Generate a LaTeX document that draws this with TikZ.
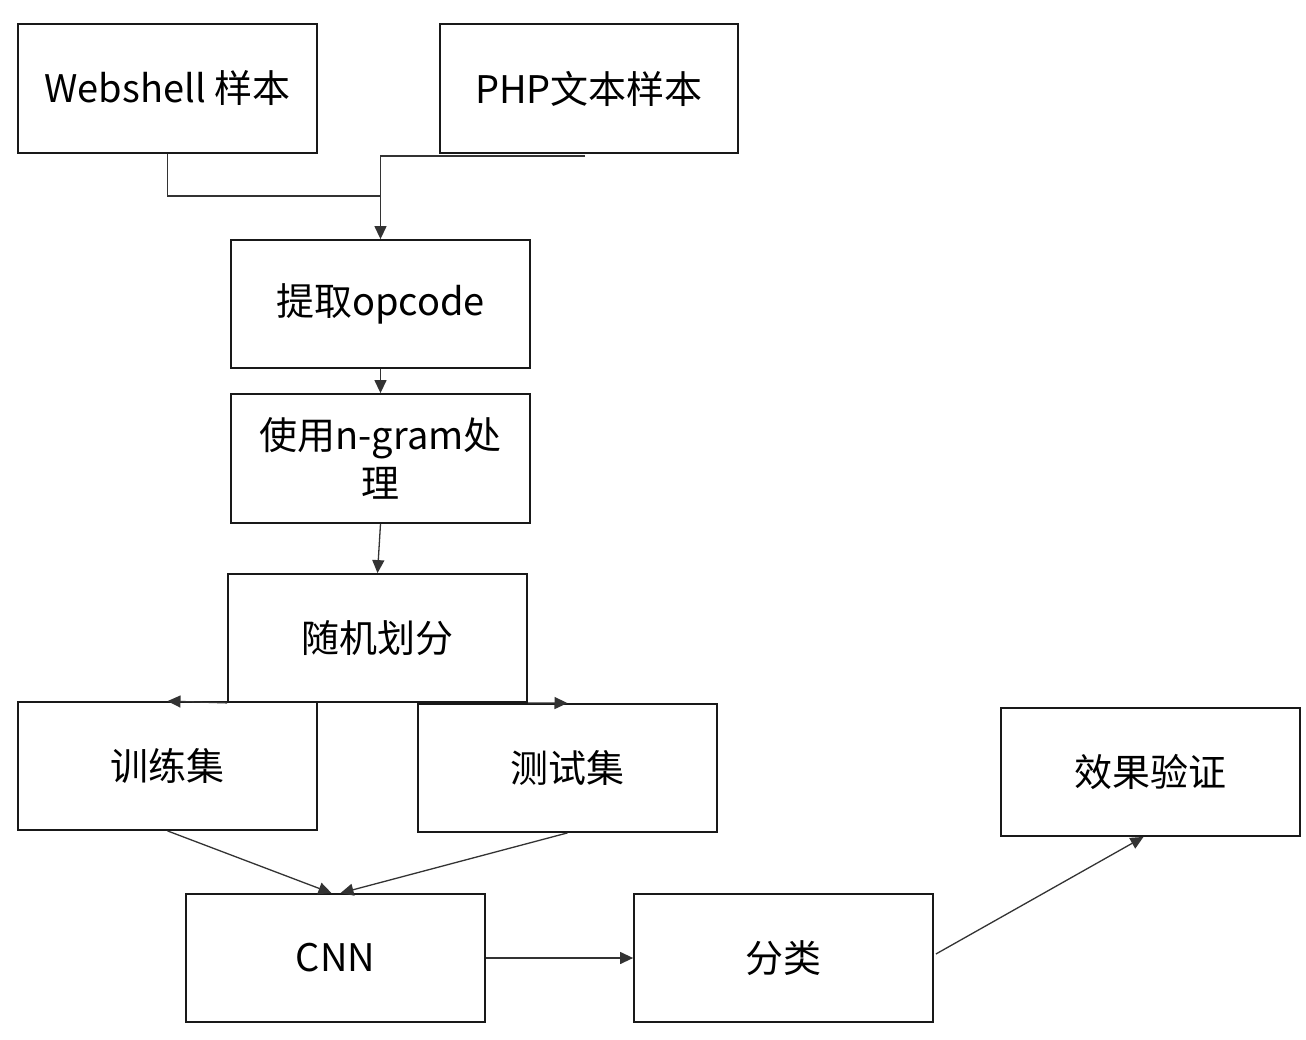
\documentclass[tikz,border=0pt]{standalone}
\usepackage{fontspec}
\setmainfont{Noto Sans CJK SC}
\usetikzlibrary{arrows.meta,calc}
\begin{document}
\begin{tikzpicture}[x=1pt,y=-1pt,
  box/.style={draw=black!90,line width=1.8pt,minimum width=299pt,minimum height=129pt,inner sep=0pt,
    font=\fontsize{38}{48}\selectfont,align=center,fill=white},
  conn/.style={draw=black!80,line width=1.3pt},
  arr/.style={conn,-{Triangle[length=13pt,width=12pt]}}]
\useasboundingbox (0,0) rectangle (1306,1040);
\fill[white] (0,0) rectangle (1306,1040);
\coordinate (j1) at (380.5,196);
\node[box] (web) at (167.5,88.5) {Webshell 样本};
\node[box,minimum width=298pt] (php) at (589,88.5) {PHP文本样本};
\node[box,minimum height=128pt] (ext) at (380.5,304) {提取opcode};
\node[box] (ngram) at (380.5,458.5) {使用n-gram处\\理};
\node[box,minimum height=128pt] (split) at (377.5,638) {随机划分};
\node[box,minimum height=128pt] (train) at (167.5,766) {训练集};
\node[box,minimum height=128pt] (test) at (567.5,768) {测试集};
\node[box,minimum height=128pt] (eff) at (1150.5,772) {效果验证};
\node[box,minimum height=128pt] (cnn) at (335.5,958) {CNN};
\node[box,minimum height=128pt] (cls) at (783.5,958) {分类};
\coordinate (cnnL) at ($(cnn.north)+(-4,0)$);
\coordinate (cnnR) at ($(cnn.north)+(5,0)$);
\coordinate (phpS) at ($(php.south)+(-4,2)$);
\coordinate (clsE) at ($(cls.east)+(2,-4)$);
\coordinate (effS) at ($(eff.south)+(-7,0)$);
\draw[conn] (web.south) |- (j1);
\draw[arr] (phpS) -| (ext.north);
\draw[arr] (ext.south) -- (ngram.north);
\draw[arr] (ngram.south) -- (split.north);
\draw[arr] (split.south west) -- (train.north);
\draw[arr] (split.south east) -- (test.north);
\draw[arr] (train.south) -- (cnnL);
\draw[arr] (test.south) -- (cnnR);
\draw[arr] (cnn.east) -- (cls.west);
\draw[arr] (clsE) -- (effS);
\end{tikzpicture}
\end{document}
